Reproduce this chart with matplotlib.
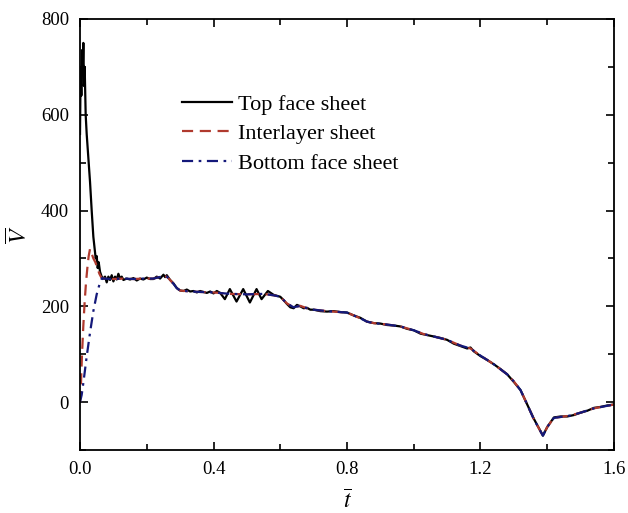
import numpy as np
import matplotlib
matplotlib.use("Agg")
import matplotlib.pyplot as plt
from matplotlib.ticker import MultipleLocator, FormatStrFormatter

plt.rcParams['font.family'] = ['Liberation Serif', 'DejaVu Serif']
plt.rcParams['mathtext.fontset'] = 'stix'

# top face sheet (black, noisy)
top_t = [0.000, 0.002, 0.004, 0.006, 0.008, 0.010, 0.012, 0.014, 0.017, 0.020,
         0.025, 0.030, 0.035, 0.040, 0.044, 0.047, 0.050, 0.053, 0.056, 0.060,
         0.065, 0.070, 0.075, 0.080, 0.085, 0.090, 0.095, 0.100, 0.105, 0.110,
         0.115, 0.120, 0.125, 0.130, 0.140, 0.150, 0.160, 0.170, 0.180, 0.190,
         0.200, 0.210, 0.220, 0.230, 0.240, 0.250, 0.255, 0.260, 0.270, 0.280,
         0.290, 0.300, 0.310, 0.320, 0.330, 0.340, 0.350, 0.360, 0.370, 0.380,
         0.390, 0.400, 0.410, 0.420, 0.434, 0.449, 0.469, 0.489, 0.509, 0.529,
         0.544, 0.563, 0.580, 0.600, 0.610, 0.620, 0.630, 0.640, 0.650, 0.660,
         0.670, 0.680, 0.690, 0.700, 0.720, 0.740, 0.760, 0.780, 0.800, 0.820,
         0.840, 0.860, 0.880, 0.900, 0.920, 0.940, 0.960, 0.980, 1.000, 1.020,
         1.040, 1.060, 1.080, 1.100, 1.120, 1.140, 1.160, 1.170, 1.180, 1.200,
         1.220, 1.240, 1.260, 1.280, 1.300, 1.320, 1.340, 1.360, 1.387, 1.400,
         1.420, 1.440, 1.460, 1.480, 1.500, 1.520, 1.540, 1.560, 1.580, 1.600]
top_v = [560, 700, 640, 735, 690, 750, 660, 700, 600, 560,
         510, 460, 400, 345, 320, 300, 305, 280, 292, 272,
         262, 258, 262, 250, 262, 255, 265, 252, 262, 256,
         268, 258, 262, 255, 258, 256, 259, 254, 258, 256,
         260, 257, 257, 262, 258, 266, 261, 265, 255, 248,
         238, 233, 232, 235, 231, 232, 229, 232, 230, 228,
         231, 227, 232, 228, 215, 236, 210, 236, 208, 236,
         215, 232, 224, 220, 213, 205, 198, 196, 203, 200,
         196, 197, 193, 193, 190, 189, 190, 188, 187, 181,
         176, 168, 165, 164, 161, 160, 158, 153, 150, 143,
         140, 137, 134, 130, 122, 117, 112, 114, 106, 96,
         88, 79, 69, 58, 42, 25, -5, -35, -70, -52,
         -32, -30, -30, -27, -22, -18, -12, -10, -7, -5]

# interlayer sheet (red dashed) rise up to the common curve
inter_t = [0.000, 0.003, 0.006, 0.010, 0.014, 0.018, 0.022, 0.026, 0.030, 0.034,
           0.040, 0.046, 0.052, 0.058, 0.064]
inter_v = [0, 40, 100, 160, 210, 250, 280, 305, 320, 312,
           300, 292, 280, 268, 260]

# bottom face sheet (blue dash-dot) rise up to the common curve
bottom_t = [0.000, 0.005, 0.010, 0.020, 0.030, 0.040, 0.050, 0.060, 0.066]
bottom_v = [0, 15, 40, 95, 145, 190, 225, 250, 259]

# shared response of the interlayer and bottom sheets after the rise
tail_t = [0.070, 0.100, 0.130, 0.160, 0.190, 0.220, 0.250, 0.260, 0.270, 0.280,
          0.290, 0.300, 0.330, 0.360, 0.400, 0.450, 0.500, 0.550, 0.580, 0.600,
          0.620, 0.640, 0.660, 0.680, 0.700, 0.740, 0.780, 0.800, 0.820, 0.840,
          0.860, 0.880, 0.920, 0.960, 1.000, 1.030, 1.060, 1.100, 1.140, 1.170,
          1.200, 1.240, 1.280, 1.300, 1.320, 1.340, 1.360, 1.387, 1.400, 1.420,
          1.440, 1.470, 1.500, 1.540, 1.570, 1.600]
tail_v = [258, 257, 258, 257, 258, 258, 263, 262, 255, 247,
          238, 233, 231, 230, 229, 226, 225, 226, 223, 220,
          206, 198, 201, 196, 193, 190, 188, 187, 181, 175,
          168, 165, 162, 158, 150, 142, 137, 130, 118, 112,
          97, 79, 58, 43, 25, -5, -36, -70, -52, -33,
          -31, -28, -22, -13, -9, -5]

fig = plt.figure(figsize=(6.28, 5.13), dpi=100)
ax = fig.add_axes([0.1274, 0.1228, 0.8503, 0.8402])

ax.plot(top_t, top_v, color='black', lw=1.6, label='Top face sheet')
ax.plot(inter_t + tail_t, inter_v + tail_v, color='#b03a2e', lw=1.6,
        dashes=(5, 3), label='Interlayer sheet')
ax.plot(bottom_t + tail_t, bottom_v + tail_v, color='#14197a', lw=1.6,
        dashes=(5, 2.5, 1.2, 2.5), label='Bottom face sheet')

ax.set_xlim(0, 1.6)
ax.set_ylim(-100, 800)
ax.xaxis.set_major_locator(MultipleLocator(0.4))
ax.xaxis.set_minor_locator(MultipleLocator(0.2))
ax.yaxis.set_major_locator(MultipleLocator(200))
ax.yaxis.set_minor_locator(MultipleLocator(100))
ax.xaxis.set_major_formatter(FormatStrFormatter('%.1f'))
ax.tick_params(which='both', direction='in', top=True, right=True,
               labelsize=13.5, width=1.2)
ax.tick_params(which='major', length=6, pad=8)
ax.tick_params(which='minor', length=4)
for s in ax.spines.values():
    s.set_linewidth(1.3)

ax.set_xlabel(r'$\overline{t}$', fontsize=17, labelpad=9)
ax.set_ylabel(r'$\overline{V}$', fontsize=17, labelpad=6)

ax.legend(loc='upper left', bbox_to_anchor=(0.1906, 0.826), frameon=False,
          fontsize=16, handlelength=2.25, handletextpad=0.3,
          labelspacing=0.41, borderpad=0, borderaxespad=0)

fig.savefig('out.png', dpi=100)
